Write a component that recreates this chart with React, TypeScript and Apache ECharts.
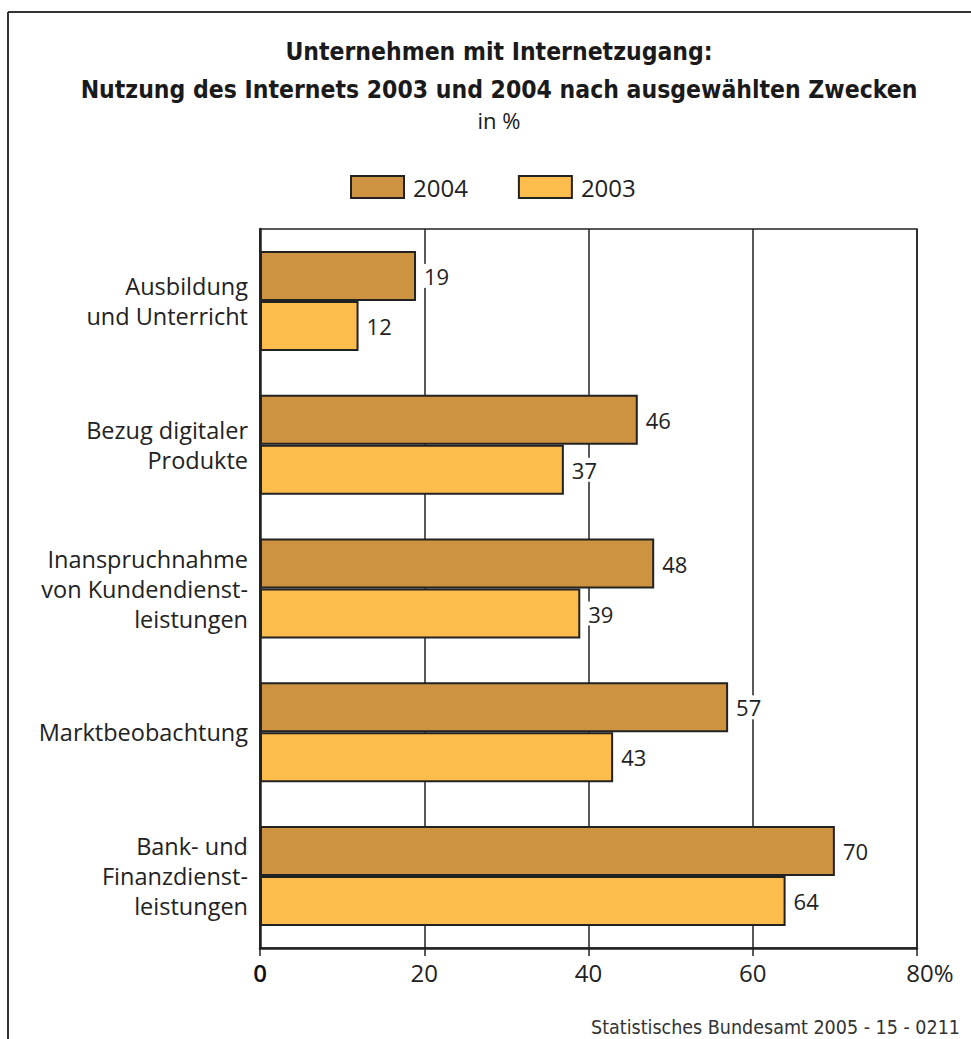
import React, { useEffect, useRef } from "react";
import * as echarts from "echarts";

const categories = [
  "Ausbildung\nund Unterricht",
  "Bezug digitaler\nProdukte",
  "Inanspruchnahme\nvon Kundendienst-\nleistungen",
  "Marktbeobachtung",
  "Bank- und\nFinanzdienst-\nleistungen",
];
const values2004 = [19, 46, 48, 57, 70];
const values2003 = [12, 37, 39, 43, 64];
const xTicks = [0, 20, 40, 60, 80];

const FONT = "'Open Sans', 'DejaVu Sans', sans-serif";
const TITLE_FONT = "'DejaVu Sans Condensed', 'Liberation Sans Narrow', sans-serif";

export default function App() {
  const ref = useRef<HTMLDivElement>(null);
  useEffect(() => {
    document.body.style.margin = "0";
    const chart = echarts.init(ref.current!, null, { renderer: "svg" });
    const labelCfg = {
      show: true,
      position: "right" as const,
      distance: 5,
      color: "#222",
      fontSize: 22,
      fontFamily: FONT,
      backgroundColor: "#fff",
      padding: [1, 3, 1, 3],
    };
    chart.setOption({
      animation: false,
      backgroundColor: "#fff",
      title: [
        {
          text: "Unternehmen mit Internetzugang:\nNutzung des Internets 2003 und 2004 nach ausgewählten Zwecken",
          left: 494,
          textAlign: "center",
          top: 27,
          textStyle: {
            fontFamily: TITLE_FONT,
            fontWeight: "bold",
            fontSize: 24.5,
            lineHeight: 38,
            color: "#1a1a1a",
          },
        },
        {
          text: "in %",
          left: 494,
          textAlign: "center",
          top: 104,
          textStyle: { fontFamily: FONT, fontWeight: "normal", fontSize: 22, color: "#1a1a1a" },
        },
        {
          text: "Statistisches Bundesamt 2005 - 15 - 0211",
          right: 6,
          top: 1012,
          textStyle: { fontFamily: TITLE_FONT, fontWeight: "normal", fontSize: 19.5, color: "#333" },
        },
      ],
      legend: {
        top: 170,
        left: 345,
        itemWidth: 53,
        itemHeight: 22,
        itemGap: 50,
        icon: "rect",
        data: ["2004", "2003"],
        textStyle: { fontFamily: FONT, fontSize: 24, color: "#222", padding: [0, 0, 0, 4] },
      },
      grid: {
        left: 260,
        right: 54,
        top: 229,
        bottom: 91,
        show: true,
        borderColor: "#222",
        borderWidth: 1.5,
        backgroundColor: "transparent",
      },
      xAxis: {
        type: "value",
        min: 0,
        max: 80,
        interval: 20,
        axisLine: { show: true, lineStyle: { color: "#222", width: 2.5 } },
        axisTick: { show: true, length: 8, lineStyle: { color: "#222", width: 1.5 } },
        splitLine: { show: true, lineStyle: { color: "#222", width: 1.5 } },
        axisLabel: {
          margin: 12,
          fontSize: 24,
          fontFamily: FONT,
          color: "#222",
          formatter: (v: number) =>
            v === xTicks[xTicks.length - 1] ? "{p|" + v + "%}" : v === 0 ? "{z|0}" : String(v),
          rich: {
            p: { fontSize: 24, fontFamily: FONT, color: "#222", padding: [0, 0, 0, 26] },
            z: { fontSize: 24, fontFamily: FONT, color: "#111", fontWeight: 600 },
          },
        },
      },
      yAxis: {
        type: "category",
        inverse: true,
        data: categories,
        axisLine: { show: true, lineStyle: { color: "#222", width: 2.5 } },
        axisTick: { show: false },
        axisLabel: {
          margin: 12,
          fontSize: 23.5,
          lineHeight: 30,
          fontFamily: FONT,
          color: "#222",
          align: "right",
        },
      },
      graphic: [
        { type: "line", shape: { x1: 8, y1: 12, x2: 971, y2: 12 }, style: { stroke: "#333", lineWidth: 2 } },
        { type: "line", shape: { x1: 8, y1: 12, x2: 8, y2: 1039 }, style: { stroke: "#333", lineWidth: 2 } },
      ],
      series: [
        {
          name: "2004",
          type: "bar",
          data: values2004,
          barWidth: 50,
          barGap: "0%",
          itemStyle: { color: "#CD9340", borderColor: "#222", borderWidth: 2 },
          label: labelCfg,
          z: 3,
        },
        {
          name: "2003",
          type: "bar",
          data: values2003,
          barWidth: 50,
          barGap: "0%",
          itemStyle: { color: "#FDBD4D", borderColor: "#222", borderWidth: 2 },
          label: labelCfg,
          z: 3,
        },
      ],
    });
    return () => chart.dispose();
  }, []);
  return <div ref={ref} style={{ width: 971, height: 1039 }} />;
}
